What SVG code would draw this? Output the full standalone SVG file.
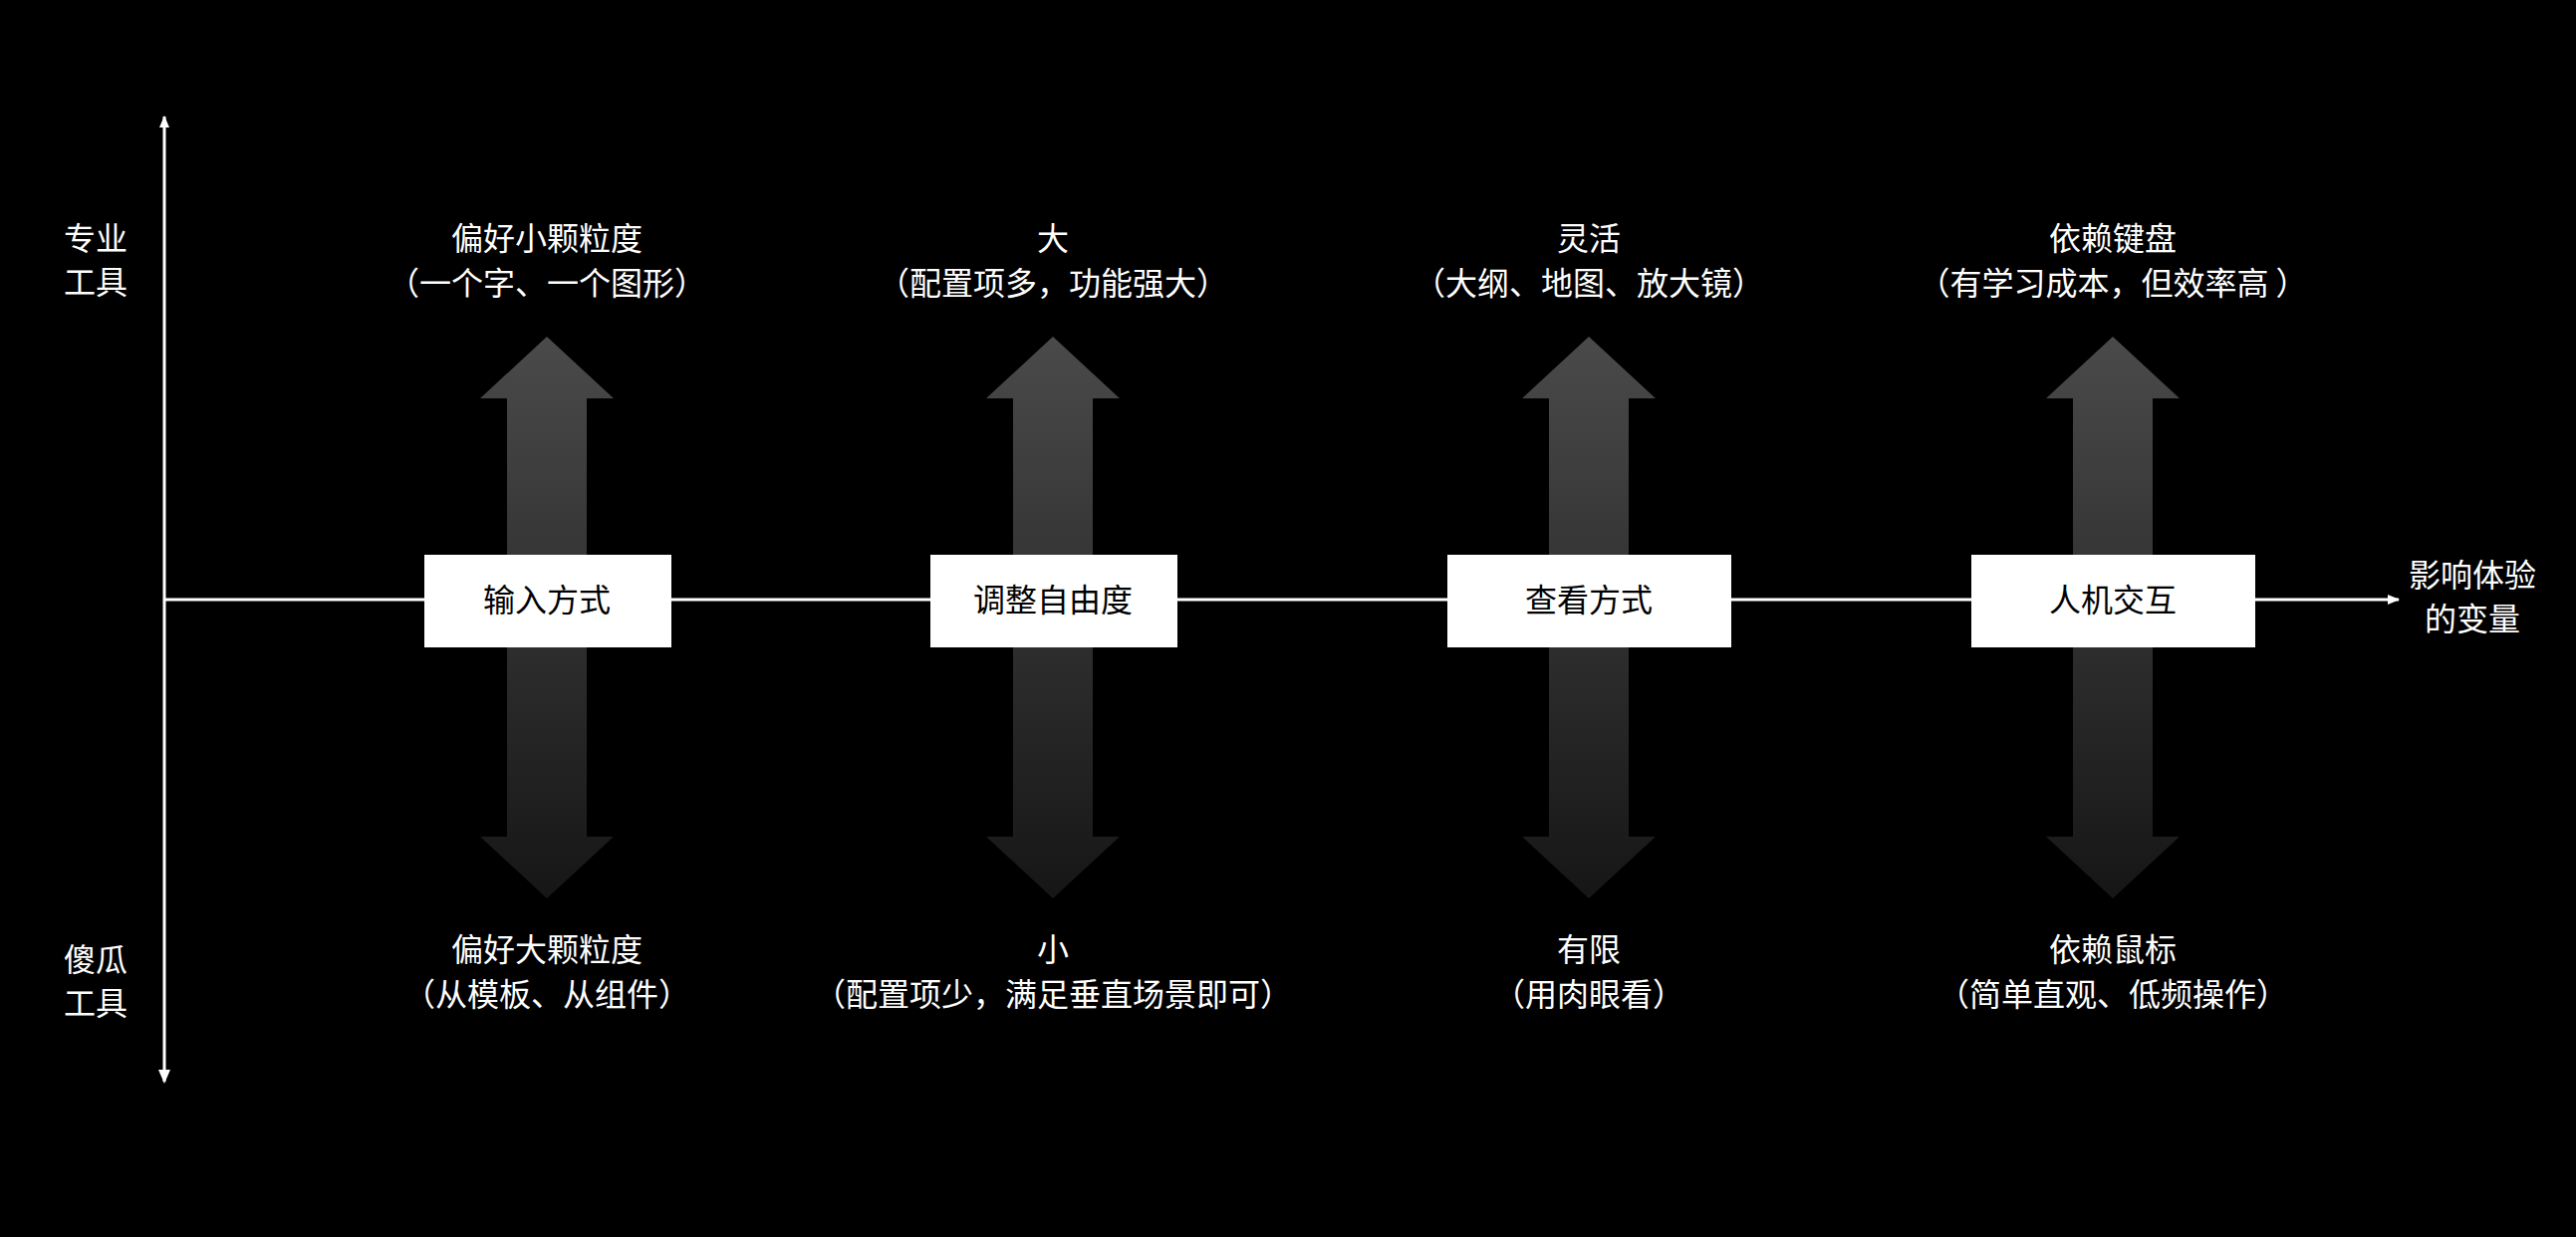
<svg xmlns="http://www.w3.org/2000/svg" width="2586" height="1242" viewBox="0 0 2586 1242">
<style>
.t{font-family:"Noto Sans CJK SC","Liberation Sans",sans-serif;font-size:32px;fill:#ffffff;text-anchor:middle;dominant-baseline:central}
.bt{font-family:"Noto Sans CJK SC","Liberation Sans",sans-serif;font-size:32px;fill:#000000;text-anchor:middle;dominant-baseline:central}
.box{fill:#ffffff}
.ax{stroke:#ffffff;stroke-width:3;fill:none}
.ba{fill:url(#g)}
</style>
<defs>
<linearGradient id="g" x1="0" y1="0" x2="0" y2="1">
<stop offset="0" stop-color="#4a4a4a"/>
<stop offset="1" stop-color="#161616"/>
</linearGradient>
<marker id="ah" viewBox="0 0 12 10" refX="11" refY="5" markerWidth="12" markerHeight="10" markerUnits="userSpaceOnUse" orient="auto">
<path d="M0,0 L12,5 L0,10 Z" fill="#ffffff"/>
</marker>
<path id="dbl" d="M0,338 L67,400 L40,400 L40,840 L67,840 L0,902 L-67,840 L-40,840 L-40,400 L-67,400 Z"/>
</defs>
<rect x="0" y="0" width="2586" height="1242" fill="#000000"/>
<g id="connectors">
<line class="ax" x1="165" y1="1086" x2="165" y2="117" marker-end="url(#ah)"/>
<path d="M159,1074 L165,1088 L171,1074 Z" fill="#ffffff"/>
<line class="ax" x1="165" y1="602" x2="2408" y2="602" marker-end="url(#ah)"/>
</g>
<g id="axis-labels">
<text class="t" x="96" y="237">专业</text>
<text class="t" x="96" y="281">工具</text>
<text class="t" x="96" y="961">傻瓜</text>
<text class="t" x="96" y="1005">工具</text>
<text class="t" x="2482" y="575">影响体验</text>
<text class="t" x="2482" y="619">的变量</text>
</g>
<g id="node1">
<g transform="translate(549,0)"><use href="#dbl" class="ba"/></g>
<rect class="box" x="426" y="557" width="248" height="93"/>
<text class="bt" x="549" y="600">输入方式</text>
<text class="t" x="549" y="237">偏好小颗粒度</text>
<text class="t" x="549" y="282">（一个字、一个图形）</text>
<text class="t" x="549" y="951">偏好大颗粒度</text>
<text class="t" x="549" y="996">（从模板、从组件）</text>
</g>
<g id="node2">
<g transform="translate(1057,0)"><use href="#dbl" class="ba"/></g>
<rect class="box" x="934" y="557" width="248" height="93"/>
<text class="bt" x="1057" y="600">调整自由度</text>
<text class="t" x="1057" y="237">大</text>
<text class="t" x="1057" y="282">（配置项多，功能强大）</text>
<text class="t" x="1057" y="951">小</text>
<text class="t" x="1057" y="996">（配置项少，满足垂直场景即可）</text>
</g>
<g id="node3">
<g transform="translate(1595,0)"><use href="#dbl" class="ba"/></g>
<rect class="box" x="1453" y="557" width="285" height="93"/>
<text class="bt" x="1595" y="600">查看方式</text>
<text class="t" x="1595" y="237">灵活</text>
<text class="t" x="1595" y="282">（大纲、地图、放大镜）</text>
<text class="t" x="1595" y="951">有限</text>
<text class="t" x="1595" y="996">（用肉眼看）</text>
</g>
<g id="node4">
<g transform="translate(2121,0)"><use href="#dbl" class="ba"/></g>
<rect class="box" x="1979" y="557" width="285" height="93"/>
<text class="bt" x="2121" y="600">人机交互</text>
<text class="t" x="2121" y="237">依赖键盘</text>
<text class="t" x="2121" y="282">（有学习成本，但效率高 ）</text>
<text class="t" x="2121" y="951">依赖鼠标</text>
<text class="t" x="2121" y="996">（简单直观、低频操作）</text>
</g>
</svg>
